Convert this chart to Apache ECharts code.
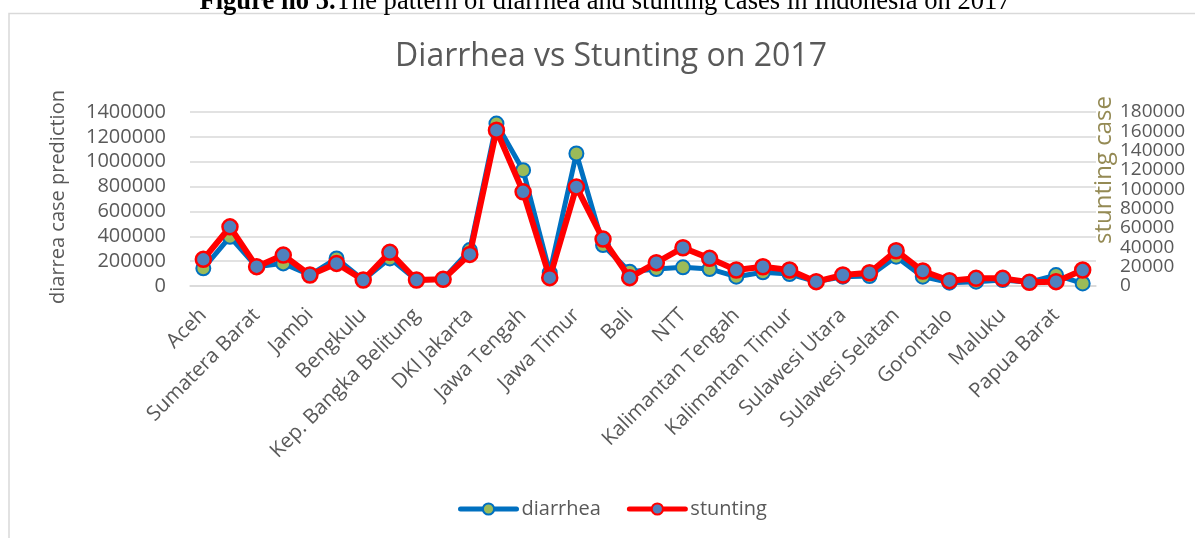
<!DOCTYPE html>
<html>
<head>
<meta charset="utf-8">
<script src="https://cdn.jsdelivr.net/npm/echarts@6/dist/echarts.min.js"></script>
<style>
html,body{margin:0;padding:0;background:#fff;}
#chart{width:1195px;height:538px;}
</style>
</head>
<body>
<div id="chart"></div>
<script>
const categories = ["Aceh","Sumatera Utara","Sumatera Barat","Riau","Jambi","Sumatera Selatan","Bengkulu","Lampung","Kep. Bangka Belitung","Kep. Riau","DKI Jakarta","Jawa Barat","Jawa Tengah","DI Yogyakarta","Jawa Timur","Banten","Bali","NTB","NTT","Kalimantan Barat","Kalimantan Tengah","Kalimantan Selatan","Kalimantan Timur","Kalimantan Utara","Sulawesi Utara","Sulawesi Tengah","Sulawesi Selatan","Sulawesi Tenggara","Gorontalo","Sulawesi Barat","Maluku","Maluku Utara","Papua Barat","Papua"];
const diarrhea = [142000,396000,155000,182000,88000,222000,48000,222000,48000,54000,289000,1307000,932000,107000,1066000,329000,115000,137000,150000,137000,75000,110000,96000,35000,75000,80000,236000,75000,27000,35000,48000,30000,88000,21000];
const stunting = [27600,61200,20000,32000,11400,23400,6200,34800,6200,6900,32700,161100,97400,8600,102500,48500,8600,24100,39600,28600,16500,19900,16500,4500,11400,13700,36500,15500,5500,7900,7900,3800,4500,16500];
const leftTicks = {min:0, max:1400000, interval:200000};
const rightTicks = {min:0, max:180000, interval:20000};

const FONT = "'Open Sans', sans-serif";
const GREY = '#595959';
const plain = v => String(v);
const chart = echarts.init(document.getElementById('chart'));
chart.setOption({
  animation:false,
  backgroundColor:'#fff',
  textStyle:{fontFamily:FONT},
  title:{text:'Diarrhea vs Stunting on 2017', left:606, textAlign:'center', top:36,
    textStyle:{fontFamily:FONT, fontSize:32, fontWeight:'normal', color:GREY}},
  graphic:[
    {type:'rect', silent:true, shape:{x:9, y:13.5, width:1400, height:700},
      style:{fill:'none', stroke:'#d9d9d9', lineWidth:1.5}, z:-1},
    {type:'text', x:605, y:16, silent:true,
      style:{text:'{b|Figure no 5.}{r|The pattern of diarrhea and stunting cases in Indonesia on 2017}',
        align:'center', verticalAlign:'bottom',
        rich:{b:{fontFamily:"'Liberation Serif', serif", fontSize:26.6, fontWeight:'bold', fill:'#000'},
              r:{fontFamily:"'Liberation Serif', serif", fontSize:26.6, fill:'#000'}}}},
    {type:'text', x:58, y:197, rotation:Math.PI/2, silent:true,
      style:{text:'diarrea case prediction', align:'center', verticalAlign:'middle',
        font:"20px 'Open Sans'", fill:GREY}},
    {type:'text', x:1104, y:170, rotation:Math.PI/2, silent:true,
      style:{text:'stunting case', align:'center', verticalAlign:'middle',
        font:"24px 'Open Sans'", fill:'#948A54'}}
  ],
  legend:{bottom:14, left:453, itemWidth:56, itemHeight:14, itemGap:26,
    lineStyle:{width:5, cap:'round'},
    textStyle:{fontFamily:FONT, fontSize:20, color:GREY},
    data:['diarrhea','stunting']},
  grid:{left:190, right:99, top:112, bottom:252, containLabel:false},
  xAxis:{type:'category', data:categories, boundaryGap:true,
    axisLine:{show:true, lineStyle:{color:'#d9d9d9', width:1.5}},
    axisTick:{show:false},
    axisLabel:{interval:1, rotate:45, fontSize:20.5, color:GREY, fontFamily:FONT, margin:26}},
  yAxis:[
    {type:'value', position:'left', min:leftTicks.min, max:leftTicks.max, interval:leftTicks.interval,
      axisLine:{show:false}, axisTick:{show:false},
      axisLabel:{fontSize:20, color:GREY, fontFamily:FONT, margin:24, formatter:plain,
        showMinLabel:true, showMaxLabel:true, hideOverlap:false},
      splitLine:{lineStyle:{color:'#d9d9d9', width:1.5}}},
    {type:'value', position:'right', min:rightTicks.min, max:rightTicks.max, interval:rightTicks.interval,
      axisLine:{show:false}, axisTick:{show:false},
      axisLabel:{fontSize:19, lineHeight:18, color:GREY, fontFamily:FONT, margin:24, formatter:plain,
        hideOverlap:false, showMinLabel:true, showMaxLabel:true, minMargin:0},
      splitLine:{show:false}}
  ],
  series:[
    {name:'diarrhea', type:'line', yAxisIndex:0, data:diarrhea, symbol:'circle', symbolSize:14,
      lineStyle:{color:'#0070C0', width:5, cap:'round', join:'round'},
      itemStyle:{color:'#9BBB59', borderColor:'#0070C0', borderWidth:2}, z:2},
    {name:'stunting', type:'line', yAxisIndex:1, data:stunting, symbol:'circle', symbolSize:15,
      lineStyle:{color:'#FF0000', width:6, cap:'round', join:'round'},
      itemStyle:{color:'#4F81BD', borderColor:'#FF0000', borderWidth:2.5}, z:3}
  ]
});
</script>
</body>
</html>
